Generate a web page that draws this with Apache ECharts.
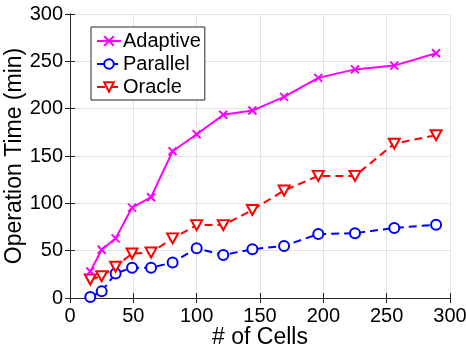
<!DOCTYPE html>
<html>
<head>
<meta charset="utf-8">
<script src="https://cdn.jsdelivr.net/npm/echarts@6/dist/echarts.min.js"></script>
<style>
  html, body { margin: 0; padding: 0; background: #fff; }
  #chart { width: 466px; height: 351px; }
</style>
</head>
<body>
<div id="chart"></div>
<script>
const cells = [16, 25, 36, 49, 64, 81, 100, 121, 144, 169, 196, 225, 256, 289];
const adaptive = [28, 51, 63, 95.5, 106.5, 155, 173, 193.5, 198, 212.5, 232.5, 241.5, 245.5, 258.5];
const parallel = [1, 7, 26, 32, 32, 37.5, 52.5, 45.5, 51.5, 55, 67.5, 68.5, 74, 77.5];
const oracle = [19.5, 23, 33, 47, 48, 63, 77, 77, 93, 113.5, 129, 129, 163, 172];
const tickValues = [0, 50, 100, 150, 200, 250, 300];

const font = 'Liberation Sans, Helvetica, Arial, sans-serif';
const axisColor = '#262626';

function pairs(ys) {
  return cells.map((x, i) => [x, ys[i]]);
}

const chart = echarts.init(document.getElementById('chart'));

const baseAxis = {
  type: 'value',
  min: tickValues[0],
  max: tickValues[tickValues.length - 1],
  interval: 50,
  axisLine: { show: true, lineStyle: { color: axisColor, width: 1 } },
  axisTick: { show: true, inside: true, length: 5, lineStyle: { color: axisColor } },
  splitLine: { show: true, lineStyle: { color: '#e3e3e3', width: 1 } },
  axisLabel: { color: '#000', fontFamily: font, fontSize: 20 },
  nameTextStyle: { color: '#000', fontFamily: font, fontSize: 23 },
  nameLocation: 'middle',
  nameMoveOverlap: false
};

const option = {
  animation: false,
  grid: { left: 70, right: 16, top: 14, bottom: 53, containLabel: false, outerBoundsMode: 'none' },
  legend: {
    orient: 'vertical',
    left: 91,
    top: 27,
    padding: [4, 4, 3, 5],
    backgroundColor: '#fff',
    borderColor: '#262626',
    borderWidth: 1,
    itemWidth: 24,
    itemHeight: 12,
    itemGap: 3,
    textStyle: { color: '#000', fontFamily: font, fontSize: 20, lineHeight: 19, padding: [0, 0, 0, -3] },
    data: ['Adaptive', 'Parallel', 'Oracle']
  },
  xAxis: [
    Object.assign({}, baseAxis, {
      name: '# of Cells',
      nameGap: 28,
      axisLabel: Object.assign({}, baseAxis.axisLabel, { margin: 8 })
    }),
    Object.assign({}, baseAxis, {
      position: 'top',
      axisLabel: { show: false },
      splitLine: { show: false }
    })
  ],
  yAxis: [
    Object.assign({}, baseAxis, {
      name: 'Operation Time (min)',
      nameGap: 44,
      axisLabel: Object.assign({}, baseAxis.axisLabel, { margin: 7 })
    }),
    Object.assign({}, baseAxis, {
      position: 'right',
      axisLabel: { show: false },
      splitLine: { show: false }
    })
  ],
  series: [
    {
      name: 'Adaptive',
      type: 'line',
      data: pairs(adaptive),
      symbol: 'path://M0,0L10,10M10,0L0,10',
      symbolSize: 8,
      lineStyle: { color: '#ff00ff', width: 2 },
      itemStyle: { color: '#ff00ff', borderColor: '#ff00ff', borderWidth: 2 },
      z: 3
    },
    {
      name: 'Parallel',
      type: 'line',
      data: pairs(parallel),
      symbol: 'emptyCircle',
      symbolSize: 10,
      lineStyle: { color: '#0000ff', width: 2, type: [8, 5] },
      itemStyle: { color: '#0000ff', borderWidth: 2 },
      z: 2
    },
    {
      name: 'Oracle',
      type: 'line',
      data: pairs(oracle),
      symbol: 'emptyTriangle',
      symbolRotate: 180,
      symbolSize: [11, 10],
      lineStyle: { color: '#ff0000', width: 2, type: [8, 5] },
      itemStyle: { color: '#ff0000', borderWidth: 2 },
      z: 2
    }
  ]
};

chart.setOption(option);
</script>
</body>
</html>
